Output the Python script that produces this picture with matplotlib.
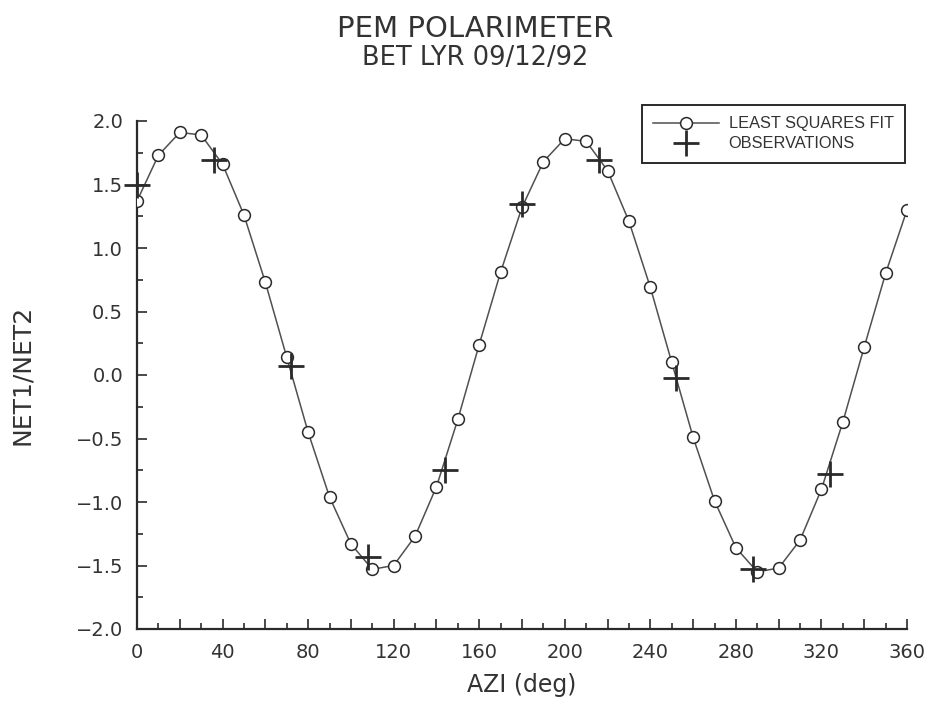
import matplotlib
matplotlib.use("Agg")
import matplotlib.pyplot as plt
from matplotlib.ticker import MultipleLocator, FuncFormatter

# ---- data ----
fit_x = [0, 10, 20, 30, 40, 50, 60, 70, 80, 90, 100, 110, 120, 130, 140, 150,
         160, 170, 180, 190, 200, 210, 220, 230, 240, 250, 260, 270, 280, 290,
         300, 310, 320, 330, 340, 350, 360]
fit_y = [1.37, 1.73, 1.91, 1.89, 1.66, 1.26, 0.73, 0.14, -0.45, -0.96, -1.33,
         -1.53, -1.50, -1.27, -0.88, -0.35, 0.24, 0.81, 1.32, 1.68, 1.86, 1.84,
         1.61, 1.21, 0.69, 0.10, -0.49, -0.99, -1.36, -1.55, -1.52, -1.30,
         -0.90, -0.37, 0.22, 0.80, 1.30]
obs_x = [0, 36, 72, 108, 144, 180, 216, 252, 288, 324]
obs_y = [1.50, 1.69, 0.07, -1.43, -0.75, 1.35, 1.69, -0.02, -1.53, -0.78]

title = "PEM POLARIMETER"
subtitle = "BET LYR 09/12/92"
xlabel = "AZI (deg)"
ylabel = "NET1/NET2"
fit_label = "LEAST SQUARES FIT"
obs_label = "OBSERVATIONS"

ink = "#2a2a2a"
txt = "#333333"
plt.rcParams['font.family'] = ['DejaVu Sans']

fig = plt.figure(figsize=(9.35, 7.06), dpi=100)
ax = fig.add_axes([137/935, 1-629/706, (907-137)/935, (629-121)/706])

ax.plot(fit_x, fit_y, color="#505050", lw=1.1, marker='o', ms=8.5,
        mfc='white', mec=ink, mew=1.1, label=fit_label, zorder=3)
ax.plot(obs_x, obs_y, linestyle='none', marker='+', ms=19, mew=2.0,
        color=ink, label=obs_label, zorder=4, clip_on=False)

ax.set_xlim(0, 360)
ax.set_ylim(-2, 2)
ax.xaxis.set_major_locator(MultipleLocator(20))
ax.xaxis.set_minor_locator(MultipleLocator(10))
ax.xaxis.set_major_formatter(FuncFormatter(
    lambda v, p: f"{int(round(v))}" if int(round(v)) % 40 == 0 else ""))
ax.yaxis.set_major_locator(MultipleLocator(0.5))
ax.yaxis.set_minor_locator(MultipleLocator(0.25))
ax.yaxis.set_major_formatter(FuncFormatter(
    lambda v, p: f"{v:.1f}".replace("-", "\u2212")))

for s in ['top', 'right']:
    ax.spines[s].set_visible(False)
for s in ['left', 'bottom']:
    ax.spines[s].set_linewidth(1.6)
    ax.spines[s].set_color(ink)

ax.tick_params(which='major', direction='in', length=7.5, width=1.2,
               colors=ink, labelsize=14, pad=10, labelcolor=txt)
ax.tick_params(which='minor', direction='in', length=4, width=1.2, colors=ink)

ax.set_xlabel(xlabel, fontsize=17, color=txt, labelpad=8)
ax.set_ylabel(ylabel, fontsize=18, color=txt, labelpad=30)

fig.text(475/935, 1-37/706, title, ha='center', va='baseline',
         fontsize=21, color=txt)
fig.text(475/935, 1-65/706, subtitle, ha='center', va='baseline',
         fontsize=18.5, color=txt)

leg = ax.legend(loc='upper right', bbox_to_anchor=(905/935, 1-105/706),
                bbox_transform=fig.transFigure, borderaxespad=0,
                fancybox=False, frameon=True,
                edgecolor=ink, framealpha=1, handlelength=4.0,
                handletextpad=0.6, labelspacing=0.3, borderpad=0.7,
                prop={'family': ['Liberation Sans'], 'size': 11.8})
leg.get_frame().set_linewidth(1.4)
for t in leg.get_texts():
    t.set_color(txt)

fig.savefig("out.png", dpi=100)
